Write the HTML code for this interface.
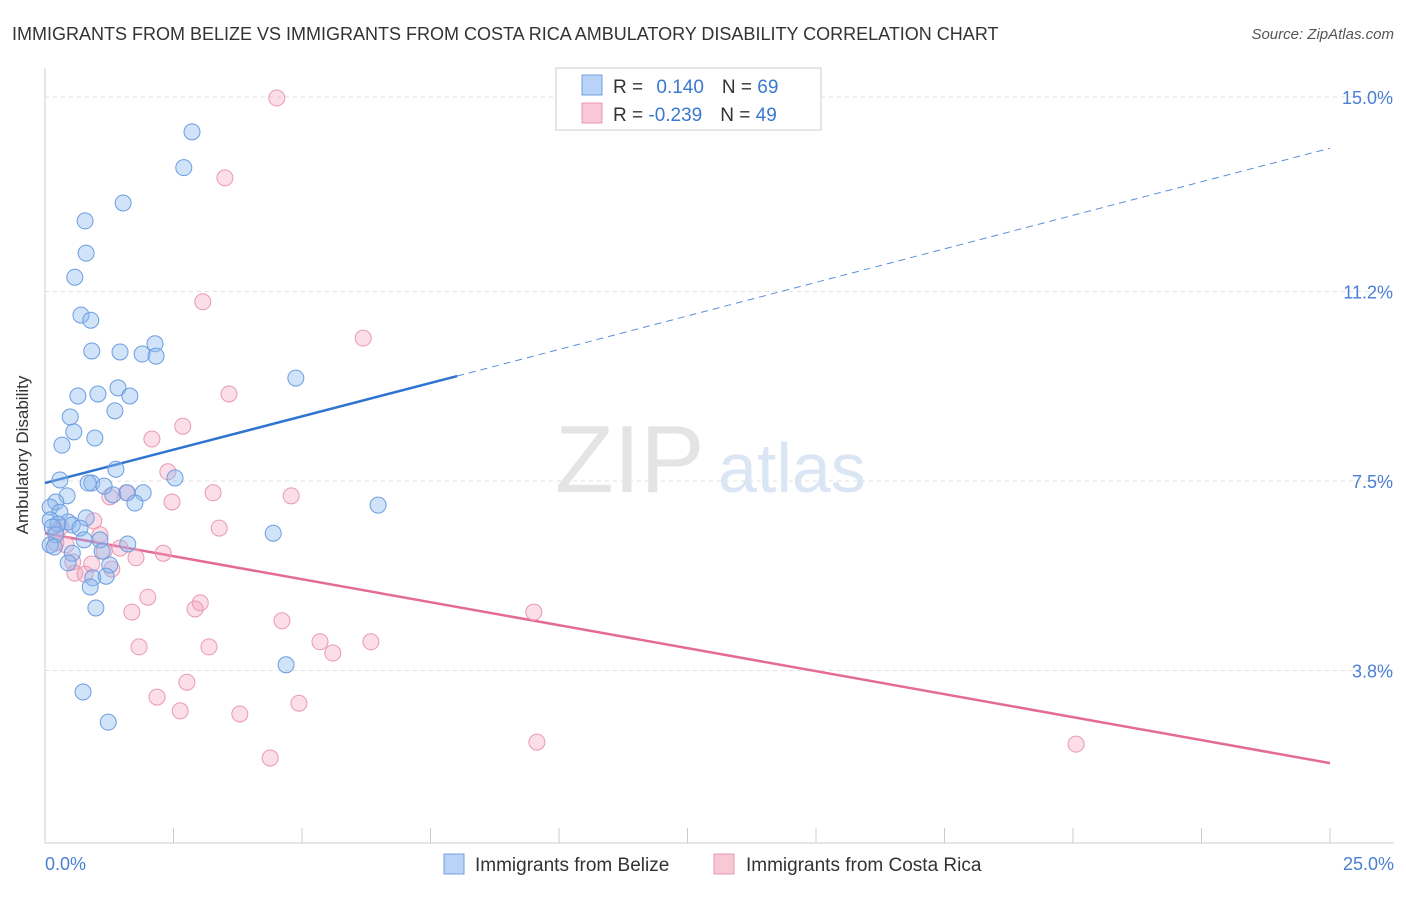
<!DOCTYPE html>
<html><head><meta charset="utf-8"><style>
body{margin:0;background:#fff;font-family:"Liberation Sans",sans-serif;}
svg text{font-family:"Liberation Sans",sans-serif;}
</style></head><body>
<svg id="chart" width="1406" height="892" xmlns="http://www.w3.org/2000/svg">
<text x="12" y="40" font-size="18" fill="#333">IMMIGRANTS FROM BELIZE VS IMMIGRANTS FROM COSTA RICA AMBULATORY DISABILITY CORRELATION CHART</text>
<text x="1394" y="39" font-size="15" fill="#555" font-style="italic" text-anchor="end">Source: ZipAtlas.com</text>
<g id="grid"></g>
<text x="555" y="492" font-size="96" fill="#e4e4e4" font-family="Liberation Serif">ZIP</text>
<text x="718" y="492" font-size="70" fill="#dbe6f5">atlas</text>
<line x1="45" y1="68" x2="45" y2="843" stroke="#ccc"/>
<line x1="45" y1="843" x2="1394" y2="843" stroke="#ccc"/>
<g id="ticks"></g>
<g id="lines"></g>
<g id="points"></g>
<text x="28" y="455" font-size="17" fill="#333" text-anchor="middle" transform="rotate(-90 28 455)">Ambulatory Disability</text>
<text x="45" y="870" font-size="18" fill="#4a7fd4">0.0%</text>
<text x="1394" y="870" font-size="18" fill="#4a7fd4" text-anchor="end">25.0%</text>
<g>
<rect x="556" y="68" width="265" height="62" fill="#fff" stroke="#ccc"/>
<rect x="582" y="75" width="20" height="20" fill="#b8d3f5" stroke="#6fa0e0"/>
<rect x="582" y="103" width="20" height="20" fill="#f9c8d6" stroke="#e99ab2"/>
<text x="613" y="93" font-size="19" fill="#333">R = <tspan fill="#3a78d0" dx="8">0.140</tspan><tspan dx="18" fill="#333">N = </tspan><tspan fill="#3a78d0">69</tspan></text>
<text x="613" y="121" font-size="19" fill="#333">R = <tspan fill="#3a78d0">-0.239</tspan><tspan dx="18" fill="#333">N = </tspan><tspan fill="#3a78d0">49</tspan></text>
</g>
<g>
<rect x="444" y="854" width="20" height="20" fill="#b8d3f5" stroke="#6fa0e0"/>
<text x="475" y="871" font-size="19" fill="#333">Immigrants from Belize</text>
<rect x="714" y="854" width="20" height="20" fill="#f9c8d6" stroke="#e99ab2"/>
<text x="746" y="871" font-size="19" fill="#333">Immigrants from Costa Rica</text>
</g>
</svg>
<script>
const yTicks=[15.0,11.2,7.5,3.8];
const yTickLabels=["15.0%","11.2%","7.5%","3.8%"];
const xTicks=[0,2.5,5,7.5,10,12.5,15,17.5,20,22.5,25];
const belizeX=[2.86,2.70,1.52,0.78,0.80,0.58,0.70,0.89,2.14,0.91,1.46,1.89,2.16,4.88,1.42,1.03,0.64,1.65,1.36,0.49,0.56,0.97,0.33,1.38,2.53,0.29,0.91,0.84,1.15,0.43,1.32,1.91,1.60,1.75,0.21,0.10,6.48,0.29,0.80,0.10,0.45,0.25,0.53,0.68,0.14,4.44,0.21,0.76,1.07,1.61,0.10,0.18,0.53,1.11,1.26,0.45,0.93,1.19,0.88,0.99,4.69,0.74,1.23];
const belizeY=[14.32,13.62,12.93,12.58,11.95,11.48,10.74,10.64,10.18,10.04,10.02,9.98,9.94,9.51,9.32,9.20,9.16,9.16,8.87,8.75,8.46,8.34,8.20,7.73,7.56,7.52,7.46,7.46,7.40,7.21,7.23,7.27,7.27,7.07,7.09,6.99,7.03,6.89,6.78,6.74,6.70,6.66,6.64,6.58,6.60,6.48,6.45,6.35,6.35,6.27,6.25,6.21,6.09,6.13,5.86,5.90,5.61,5.64,5.43,5.02,3.91,3.38,2.79];
const costaX=[4.51,3.50,3.07,6.19,3.58,2.68,2.08,2.39,2.47,3.27,4.79,1.58,0.95,0.31,3.39,0.21,1.07,1.46,1.15,2.30,1.77,0.54,0.91,0.58,1.30,0.78,2.00,3.02,2.92,1.69,9.51,4.61,5.35,6.34,1.83,3.19,5.60,2.76,2.18,4.94,2.63,3.79,9.57,20.06,4.38,0.21,1.26,0.41];
const costaY=[14.98,13.42,11.00,10.29,9.20,8.57,8.32,7.68,7.09,7.27,7.21,7.27,6.72,6.60,6.58,6.52,6.45,6.19,6.13,6.09,6.00,5.92,5.88,5.70,5.78,5.68,5.23,5.12,5.00,4.94,4.94,4.77,4.36,4.36,4.26,4.26,4.14,3.57,3.28,3.16,3.01,2.95,2.40,2.36,2.09,6.29,7.19,6.25];
const blueTrend=[[0,7.46],[8.02,9.55],[25,14.0]];
const pinkTrend=[[0,6.48],[25,1.99]];
const X=v=>45+v*51.4, Y=v=>97+(15-v)*51.2;
const NS="http://www.w3.org/2000/svg";
function mk(tag,attrs,parent){const e=document.createElementNS(NS,tag);for(const k in attrs)e.setAttribute(k,attrs[k]);document.getElementById(parent).appendChild(e);return e;}
yTicks.forEach((t,i)=>{
 const l=mk('line',{x1:45,x2:1394,y1:Y(t),y2:Y(t),stroke:'#e2e2e2','stroke-dasharray':'4,4'},'grid');
 
 
 const tx=mk('text',{x:1393,y:Y(t)+7,'font-size':18,fill:'#4a7fd4','text-anchor':'end'},'grid');
 tx.textContent=yTickLabels[i];
 
 
});
xTicks.forEach(t=>{
 const l=mk('line',{x1:X(t),x2:X(t),y1:828,y2:843,stroke:'#ccc'},'ticks');
 
 
});
let b=mk('line',{x1:X(blueTrend[0][0]),y1:Y(blueTrend[0][1]),x2:X(blueTrend[1][0]),y2:Y(blueTrend[1][1]),stroke:'#2f74d0','stroke-width':2.5},'lines');


b=mk('line',{x1:X(blueTrend[1][0]),y1:Y(blueTrend[1][1]),x2:X(blueTrend[2][0]),y2:Y(blueTrend[2][1]),stroke:'#5a8fd8','stroke-width':1,'stroke-dasharray':'7,5'},'lines');


b=mk('line',{x1:X(pinkTrend[0][0]),y1:Y(pinkTrend[0][1]),x2:X(pinkTrend[1][0]),y2:Y(pinkTrend[1][1]),stroke:'#e46a97','stroke-width':2.5},'lines');


costaX.forEach((v,i)=>{
 const c=mk('circle',{cx:X(v),cy:Y(costaY[i]),r:8,fill:'rgba(244,160,186,0.35)',stroke:'#e99ab2','stroke-width':1},'points');
 
 
});
belizeX.forEach((v,i)=>{
 const c=mk('circle',{cx:X(v),cy:Y(belizeY[i]),r:8,fill:'rgba(140,185,240,0.4)',stroke:'#6b9de0','stroke-width':1},'points');
 
 
});
</script>
</body></html>
